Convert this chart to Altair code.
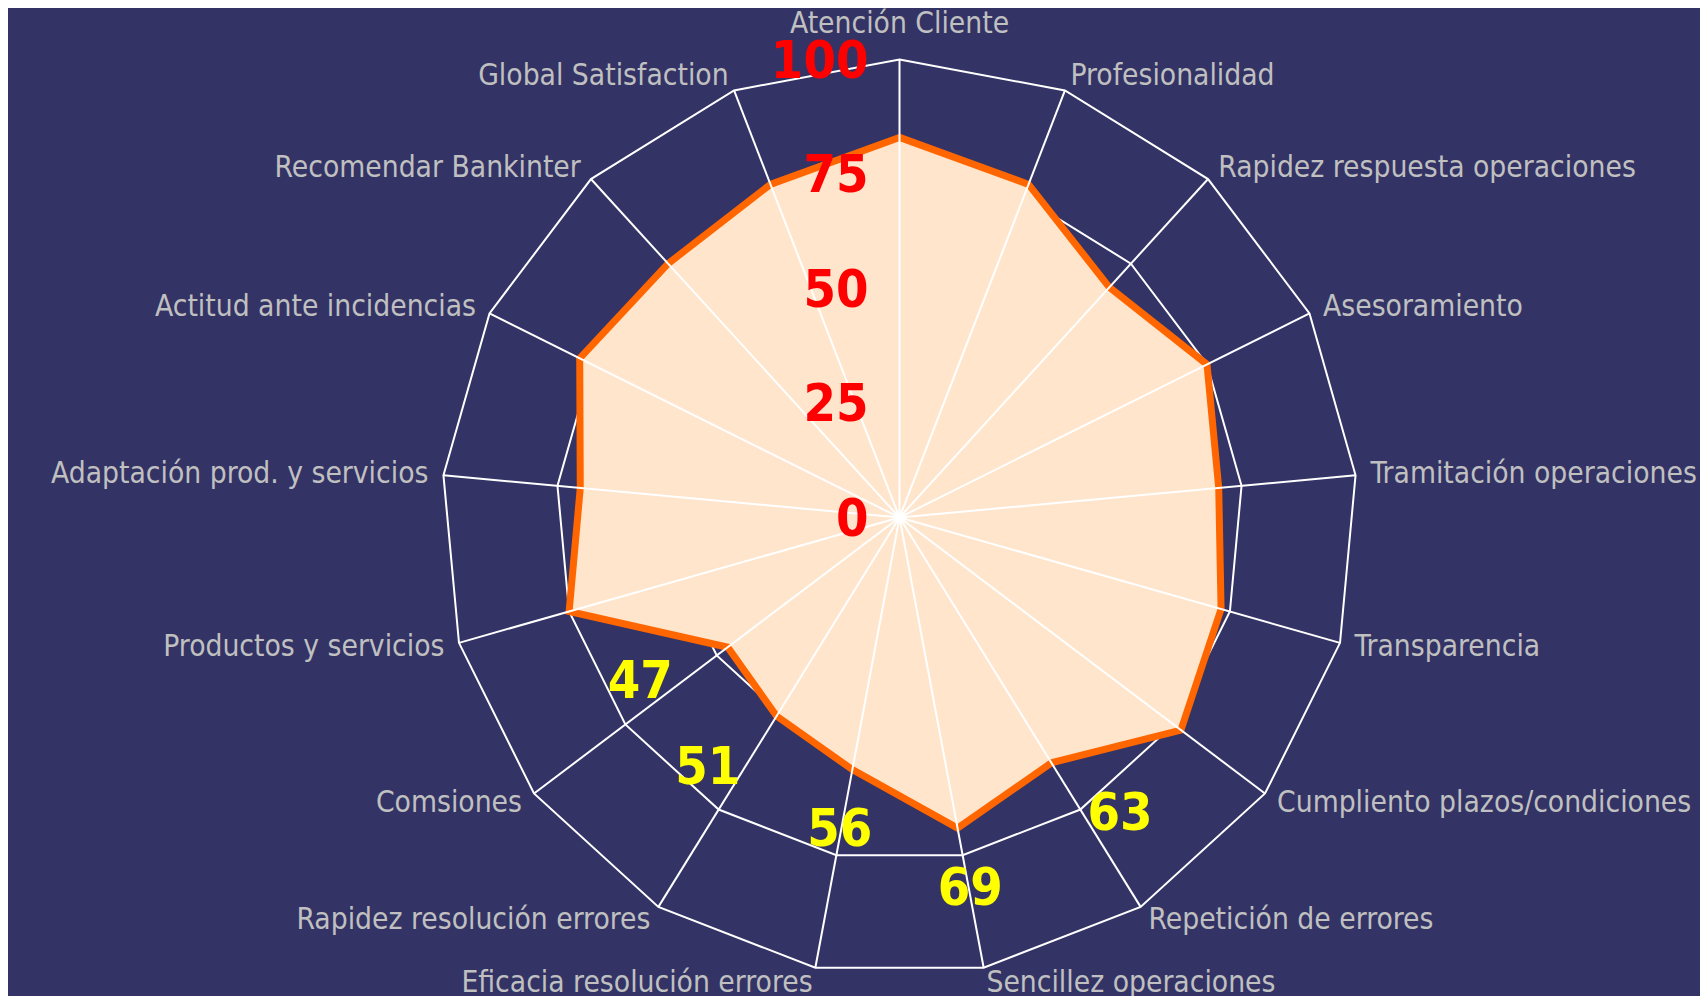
import altair as alt
import pandas as pd

categories = [
    "Atención Cliente", "Profesionalidad", "Rapidez respuesta operaciones",
    "Asesoramiento", "Tramitación operaciones", "Transparencia",
    "Cumpliento plazos/condiciones", "Repetición de errores",
    "Sencillez operaciones", "Eficacia resolución errores",
    "Rapidez resolución errores", "Comsiones", "Productos y servicios",
    "Adaptación prod. y servicios", "Actitud ante incidencias",
    "Recomendar Bankinter", "Global Satisfaction",
]
values = [83, 78, 68, 75, 70, 73, 77, 63, 69, 56, 51, 47, 75, 70, 78, 75, 78]
value_labels = [None, None, None, None, None, None, None, 63, 69, 56, 51, 47,
                None, None, None, None, None]
tick_values = [0, 25, 50, 75, 100]
ring_levels = [25, 50, 75, 100]

N = len(categories)
BG = "#333366"
FILL = "#FFE5CC"
LINE = "#FF6600"
FONT = "DejaVu Sans Condensed"
LABEL_SIZE = 29.7

W, H = 1692, 988
PX = 4.58          # pixels per unit
CX, CY = 891.5, 509.5
xdom = [-CX / PX, (W - CX) / PX]
ydom = [-(H - CY) / PX, CY / PX]

xs = alt.Scale(domain=xdom, nice=False, zero=False)
ys = alt.Scale(domain=ydom, nice=False, zero=False)

df = pd.DataFrame({
    "idx": list(range(N)),
    "category": categories,
    "value": values,
    "vlabel": [("" if v is None else str(v)) for v in value_labels],
})
rings = pd.DataFrame(
    [{"idx": i, "level": lv} for lv in ring_levels for i in range(N)]
)
ticks = pd.DataFrame({"tick": tick_values, "ttext": [str(t) for t in tick_values]})

ang = f"datum.idx * 2 * PI / {N}"


def polar(chart, rexpr):
    return chart.transform_calculate(
        ang=ang
    ).transform_calculate(
        px=f"({rexpr}) * sin(datum.ang)",
        py=f"({rexpr}) * cos(datum.ang)",
        s="sin(datum.ang)",
    )


X = alt.X("px:Q", scale=xs, axis=None)
Y = alt.Y("py:Q", scale=ys, axis=None)

ring_layer = polar(alt.Chart(rings), "datum.level").mark_line(
    interpolate="linear-closed", stroke="white", strokeWidth=2
).encode(x=X, y=Y, detail="level:N", order="idx:Q")

fill_layer = polar(alt.Chart(df), "datum.value").mark_line(
    interpolate="linear-closed", filled=True, fill=FILL, strokeWidth=0
).encode(x=X, y=Y, order="idx:Q")

line_layer = polar(alt.Chart(df), "datum.value").mark_line(
    interpolate="linear-closed", stroke=LINE, strokeWidth=7, strokeJoin="miter"
).encode(x=X, y=Y, order="idx:Q")

spoke_layer = polar(alt.Chart(df), "100").transform_calculate(
    ox="0", oy="0"
).mark_rule(stroke="white", strokeWidth=2).encode(
    x=alt.X("ox:Q", scale=xs, axis=None),
    y=alt.Y("oy:Q", scale=ys, axis=None),
    x2="px:Q", y2="py:Q",
)

lab_base = polar(alt.Chart(df), "103.3")
lab_top = polar(alt.Chart(df), "105.8").transform_filter("datum.idx == 0").mark_text(
    font=FONT, fontSize=LABEL_SIZE, color="#C0C0C0", align="center", baseline="alphabetic"
).encode(x=X, y=Y, text="category:N")
lab_right = lab_base.transform_filter("datum.idx > 0 && datum.s > 0").mark_text(
    font=FONT, fontSize=LABEL_SIZE, color="#C0C0C0", align="left", baseline="middle"
).encode(x=X, y=Y, text="category:N")
lab_left = lab_base.transform_filter("datum.s < 0").mark_text(
    font=FONT, fontSize=LABEL_SIZE, color="#C0C0C0", align="right", baseline="middle"
).encode(x=X, y=Y, text="category:N")

tick_layer = alt.Chart(ticks).mark_text(
    font=FONT, fontSize=52, fontWeight="bold", color="#FF0000",
    align="right", baseline="middle", dx=-31, dy=2
).encode(
    x=alt.X("z:Q", scale=xs, axis=None),
    y=alt.Y("tick:Q", scale=ys, axis=None),
    text="ttext:N",
).transform_calculate(z="0")

vl_base = polar(alt.Chart(df), "datum.value + 15").transform_filter("datum.vlabel != ''")
vl_left = vl_base.transform_filter("datum.s < -0.3").mark_text(
    font=FONT, fontSize=52, fontWeight="bold", color="#FFFF00",
    align="right", baseline="middle", dy=-7
).encode(x=X, y=Y, text="vlabel:N")
vl_mid = vl_base.transform_filter("abs(datum.s) <= 0.3").mark_text(
    font=FONT, fontSize=52, fontWeight="bold", color="#FFFF00",
    align="center", baseline="middle", dy=-7
).encode(x=X, y=Y, text="vlabel:N")
vl_right = vl_base.transform_filter("datum.s > 0.3").mark_text(
    font=FONT, fontSize=52, fontWeight="bold", color="#FFFF00",
    align="left", baseline="middle", dy=-7
).encode(x=X, y=Y, text="vlabel:N")

chart = alt.layer(
    ring_layer, fill_layer, line_layer, spoke_layer,
    lab_top, lab_right, lab_left, tick_layer, vl_left, vl_mid, vl_right,
).properties(
    width=W, height=H, padding=0, background=BG,
    autosize=alt.AutoSizeParams(type="none"),
).configure_view(stroke=None)

chart.save("out.html", embed_options={"renderer": "svg", "actions": False})
